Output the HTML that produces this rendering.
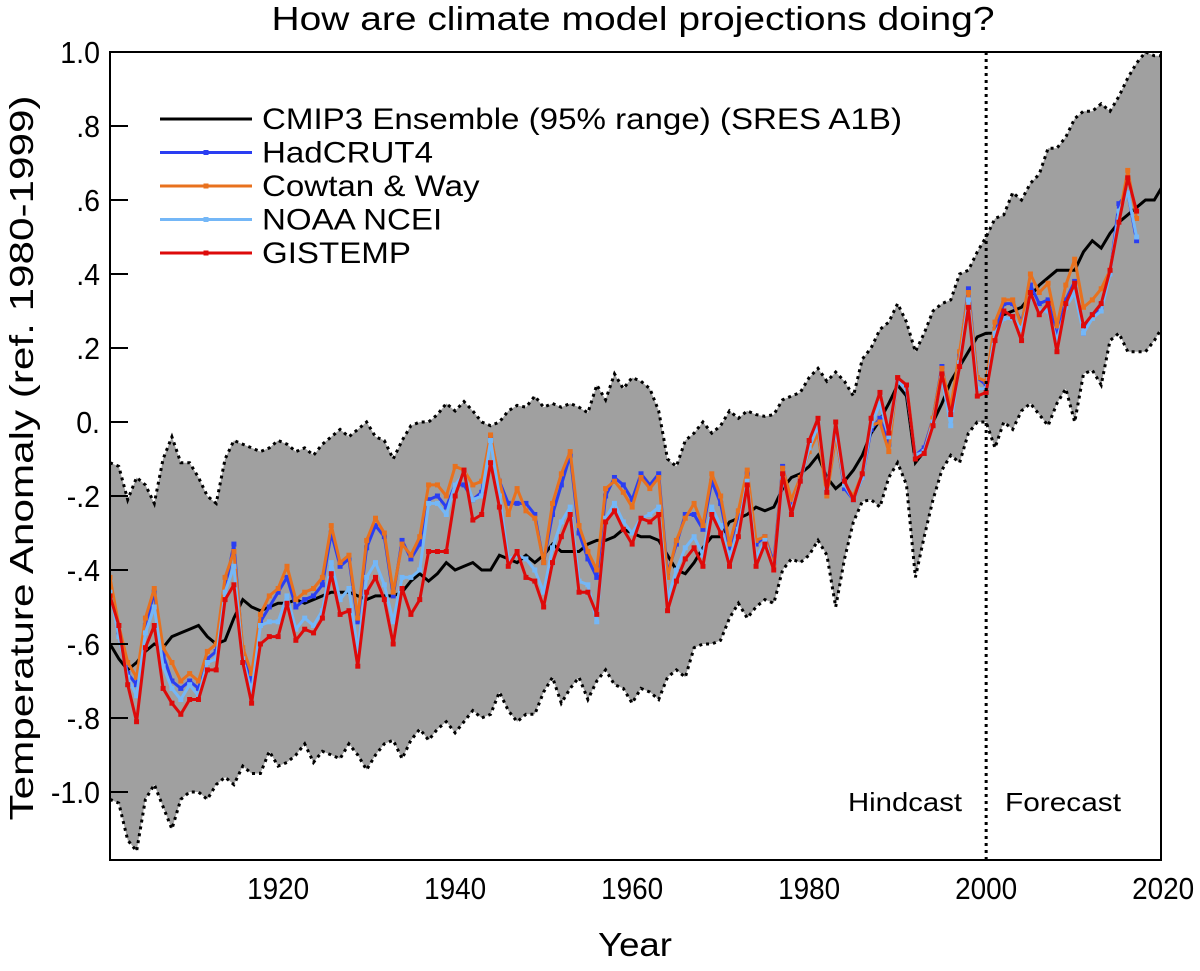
<!DOCTYPE html>
<html><head><meta charset="utf-8"><style>
html,body{margin:0;padding:0;background:#fff;}
svg{display:block;font-family:"Liberation Sans",sans-serif;}
</style></head><body>
<svg id="chart" width="1200" height="971" viewBox="0 0 1200 971" xmlns="http://www.w3.org/2000/svg">
<defs><clipPath id="clip"><rect x="110" y="52" width="1051" height="808"/></clipPath></defs>
<text x="633" y="30" font-size="33" text-anchor="middle" textLength="723" lengthAdjust="spacingAndGlyphs">How are climate model projections doing?</text>
<text transform="translate(33,458) rotate(-90)" font-size="33" text-anchor="middle" textLength="725" lengthAdjust="spacingAndGlyphs">Temperature Anomaly (ref. 1980-1999)</text>
<text x="635" y="956" font-size="33" text-anchor="middle" textLength="74" lengthAdjust="spacingAndGlyphs">Year</text>
<g id="plot" clip-path="url(#clip)"></g>
<g id="axes"></g>
<rect x="110" y="52" width="1051" height="808" fill="none" stroke="#000" stroke-width="2"/>
<g id="legend"></g>
<text x="848" y="811" font-size="26" textLength="114" lengthAdjust="spacingAndGlyphs">Hindcast</text>
<text x="1005" y="811" font-size="26" textLength="116" lengthAdjust="spacingAndGlyphs">Forecast</text>
</svg>
<script>
const firstYear = 1901;
const modelMean = [-0.60,-0.64,-0.67,-0.65,-0.62,-0.60,-0.61,-0.58,-0.57,-0.56,
-0.55,-0.58,-0.60,-0.59,-0.53,-0.48,-0.50,-0.51,-0.50,-0.49,
-0.49,-0.48,-0.49,-0.48,-0.47,-0.46,-0.46,-0.46,-0.47,-0.48,
-0.47,-0.47,-0.47,-0.46,-0.43,-0.41,-0.43,-0.41,-0.38,-0.40,
-0.39,-0.38,-0.40,-0.40,-0.36,-0.37,-0.38,-0.36,-0.38,-0.36,
-0.33,-0.35,-0.35,-0.35,-0.33,-0.32,-0.32,-0.31,-0.29,-0.30,
-0.31,-0.31,-0.32,-0.36,-0.40,-0.41,-0.38,-0.34,-0.31,-0.31,
-0.27,-0.26,-0.25,-0.23,-0.24,-0.23,-0.18,-0.15,-0.14,-0.12,
-0.09,-0.15,-0.18,-0.16,-0.13,-0.09,-0.03,0.005,0.05,0.10,
0.07,-0.11,-0.08,0.00,0.05,0.11,0.15,0.19,0.23,0.24,
0.24,0.29,0.30,0.31,0.34,0.37,0.39,0.41,0.41,0.41,
0.46,0.49,0.47,0.51,0.54,0.56,0.58,0.60,0.60,0.64];
const bandUpper = [-0.11,-0.12,-0.21,-0.15,-0.17,-0.22,-0.10,-0.04,-0.11,-0.11,
-0.15,-0.20,-0.22,-0.10,-0.05,-0.06,-0.07,-0.08,-0.07,-0.05,
-0.06,-0.08,-0.07,-0.09,-0.06,-0.04,-0.02,-0.04,-0.02,0.00,
-0.04,-0.05,-0.10,-0.05,-0.01,0.00,0.00,0.02,0.05,0.03,
0.055,0.03,0.00,-0.01,0.00,0.03,0.045,0.04,0.07,0.04,
0.05,0.04,0.05,0.04,0.025,0.10,0.06,0.13,0.09,0.12,
0.11,0.09,0.03,-0.10,-0.12,-0.05,-0.03,0.00,-0.03,-0.01,
0.03,0.01,0.03,0.02,0.015,0.02,0.06,0.07,0.08,0.12,
0.145,0.11,0.135,0.11,0.07,0.17,0.20,0.25,0.27,0.32,
0.27,0.19,0.24,0.30,0.32,0.33,0.40,0.41,0.46,0.50,
0.55,0.56,0.62,0.60,0.645,0.67,0.74,0.74,0.77,0.82,
0.84,0.84,0.86,0.84,0.88,0.93,0.97,1.00,0.99,0.99];
const bandLower = [-1.02,-1.03,-1.13,-1.16,-1.02,-0.98,-1.04,-1.10,-1.02,-1.00,
-1.00,-1.02,-0.98,-0.96,-0.98,-0.93,-0.95,-0.95,-0.89,-0.93,
-0.92,-0.90,-0.87,-0.92,-0.89,-0.90,-0.91,-0.87,-0.90,-0.94,
-0.90,-0.87,-0.86,-0.91,-0.86,-0.83,-0.86,-0.83,-0.81,-0.84,
-0.81,-0.78,-0.80,-0.79,-0.73,-0.78,-0.81,-0.79,-0.79,-0.73,
-0.69,-0.76,-0.72,-0.69,-0.75,-0.70,-0.67,-0.71,-0.72,-0.76,
-0.72,-0.73,-0.75,-0.69,-0.67,-0.69,-0.61,-0.60,-0.60,-0.59,
-0.53,-0.49,-0.53,-0.50,-0.48,-0.49,-0.40,-0.37,-0.38,-0.36,
-0.32,-0.36,-0.50,-0.37,-0.27,-0.215,-0.21,-0.23,-0.15,-0.11,
-0.17,-0.42,-0.31,-0.21,-0.13,-0.09,-0.11,-0.03,0.00,0.00,
-0.07,0.00,-0.02,0.03,0.05,0.02,-0.01,0.05,0.09,0.00,
0.13,0.14,0.10,0.22,0.24,0.19,0.19,0.19,0.22,0.26];
const hadcrut4 = [-0.44,-0.57,-0.68,-0.71,-0.55,-0.46,-0.63,-0.70,-0.72,-0.70,
-0.72,-0.64,-0.62,-0.45,-0.33,-0.62,-0.70,-0.54,-0.50,-0.46,
-0.42,-0.50,-0.48,-0.47,-0.44,-0.30,-0.39,-0.37,-0.54,-0.34,
-0.28,-0.31,-0.47,-0.32,-0.37,-0.33,-0.21,-0.20,-0.23,-0.17,
-0.17,-0.21,-0.19,-0.04,-0.16,-0.22,-0.22,-0.22,-0.25,-0.38,
-0.25,-0.17,-0.09,-0.30,-0.37,-0.42,-0.20,-0.15,-0.17,-0.21,
-0.14,-0.17,-0.14,-0.41,-0.33,-0.25,-0.25,-0.29,-0.16,-0.22,
-0.34,-0.25,-0.14,-0.33,-0.31,-0.38,-0.12,-0.22,-0.15,-0.07,
-0.03,-0.18,-0.03,-0.18,-0.21,-0.15,-0.02,0.01,-0.06,0.12,
0.09,-0.09,-0.07,0.01,0.15,0.02,0.18,0.36,0.12,0.10,
0.25,0.32,0.32,0.27,0.37,0.32,0.33,0.23,0.33,0.38,
0.24,0.29,0.31,0.40,0.59,0.62,0.49];
const cowtanWay = [-0.42,-0.55,-0.65,-0.69,-0.53,-0.45,-0.61,-0.65,-0.70,-0.68,
-0.70,-0.62,-0.60,-0.42,-0.35,-0.61,-0.68,-0.52,-0.47,-0.45,
-0.39,-0.48,-0.46,-0.45,-0.42,-0.28,-0.38,-0.36,-0.53,-0.32,
-0.26,-0.30,-0.46,-0.33,-0.36,-0.31,-0.17,-0.17,-0.20,-0.12,
-0.13,-0.17,-0.16,-0.035,-0.16,-0.25,-0.18,-0.24,-0.26,-0.38,
-0.22,-0.14,-0.08,-0.28,-0.35,-0.40,-0.18,-0.16,-0.19,-0.23,
-0.15,-0.18,-0.15,-0.42,-0.32,-0.26,-0.22,-0.28,-0.14,-0.20,
-0.33,-0.24,-0.13,-0.32,-0.31,-0.39,-0.125,-0.21,-0.15,-0.08,
-0.03,-0.20,-0.04,-0.17,-0.20,-0.14,-0.01,0.00,-0.08,0.12,
0.10,-0.09,-0.08,0.01,0.145,0.04,0.19,0.35,0.12,0.11,
0.27,0.33,0.33,0.26,0.40,0.35,0.375,0.26,0.37,0.44,
0.31,0.33,0.36,0.41,0.55,0.68,0.55];
const noaaNcei = [-0.46,-0.58,-0.69,-0.74,-0.57,-0.50,-0.66,-0.72,-0.75,-0.71,
-0.74,-0.65,-0.64,-0.46,-0.39,-0.64,-0.73,-0.55,-0.54,-0.54,
-0.47,-0.56,-0.53,-0.55,-0.51,-0.38,-0.48,-0.45,-0.62,-0.42,
-0.38,-0.44,-0.54,-0.42,-0.42,-0.40,-0.22,-0.22,-0.25,-0.17,
-0.14,-0.21,-0.20,-0.05,-0.20,-0.37,-0.36,-0.37,-0.40,-0.46,
-0.34,-0.27,-0.23,-0.43,-0.44,-0.54,-0.26,-0.22,-0.27,-0.30,
-0.26,-0.25,-0.23,-0.48,-0.40,-0.34,-0.31,-0.36,-0.23,-0.28,
-0.37,-0.29,-0.16,-0.37,-0.32,-0.40,-0.15,-0.24,-0.16,-0.07,
-0.01,-0.18,-0.02,-0.17,-0.21,-0.15,-0.01,0.05,-0.04,0.11,
0.09,-0.09,-0.08,0.00,0.12,-0.01,0.16,0.33,0.09,0.09,
0.24,0.28,0.28,0.25,0.34,0.30,0.30,0.22,0.31,0.35,
0.24,0.28,0.30,0.40,0.57,0.62,0.50];
const gistemp = [-0.47,-0.55,-0.71,-0.81,-0.61,-0.55,-0.72,-0.76,-0.79,-0.75,
-0.75,-0.67,-0.67,-0.48,-0.44,-0.65,-0.76,-0.60,-0.58,-0.58,
-0.49,-0.59,-0.56,-0.57,-0.53,-0.41,-0.52,-0.51,-0.66,-0.46,
-0.42,-0.48,-0.60,-0.45,-0.52,-0.48,-0.35,-0.35,-0.35,-0.20,
-0.13,-0.265,-0.25,-0.11,-0.23,-0.39,-0.35,-0.42,-0.43,-0.50,
-0.38,-0.31,-0.25,-0.46,-0.46,-0.52,-0.27,-0.24,-0.29,-0.33,
-0.26,-0.27,-0.25,-0.51,-0.43,-0.37,-0.34,-0.39,-0.25,-0.30,
-0.39,-0.31,-0.17,-0.39,-0.33,-0.40,-0.14,-0.25,-0.16,-0.05,
0.01,-0.19,0.00,-0.16,-0.21,-0.14,0.01,0.08,-0.03,0.12,
0.10,-0.10,-0.085,-0.01,0.13,0.02,0.15,0.31,0.07,0.08,
0.22,0.30,0.285,0.22,0.35,0.29,0.32,0.19,0.32,0.375,
0.26,0.29,0.32,0.41,0.54,0.66,0.57];
const yTickValues = [1.0,0.8,0.6,0.4,0.2,0,-0.2,-0.4,-0.6,-0.8,-1.0];
const yTickLabels = ["1.0",".8",".6",".4",".2","0.","-.2","-.4","-.6","-.8","-1.0"];
const xTickValues = [1920,1940,1960,1980,2000,2020];
const xTickLabels = ["1920","1940","1960","1980","2000","2020"];

const NS = "http://www.w3.org/2000/svg";
function xs(year){ return 110 + (year - 1901) * 8.85; }
function ys(v){ return 422 - v * 370; }
function mk(tag, attrs, parent){ const e = document.createElementNS(NS, tag); for (const k in attrs) e.setAttribute(k, attrs[k]); parent.appendChild(e); return e; }
function pts(arr){ return arr.map((v,i)=> xs(firstYear+i).toFixed(1)+","+ys(v).toFixed(1)).join(" "); }
function condense(t, f){ const w = t.getComputedTextLength(); t.setAttribute("textLength", (w*f).toFixed(1)); t.setAttribute("lengthAdjust","spacingAndGlyphs"); }

const plot = document.getElementById("plot");
const bandPts = bandUpper.map((v,i)=>xs(firstYear+i).toFixed(1)+","+ys(v).toFixed(1)).concat(bandLower.map((v,i)=>[i,v]).reverse().map(p=>xs(firstYear+p[0]).toFixed(1)+","+ys(p[1]).toFixed(1))).join(" ");
const band = mk("polygon",{points:bandPts,fill:"#a0a0a0",stroke:"none"},plot);


const ub = mk("polyline",{points:pts(bandUpper),fill:"none",stroke:"#000","stroke-width":3,"stroke-dasharray":"3,4"},plot);


const lb = mk("polyline",{points:pts(bandLower),fill:"none",stroke:"#000","stroke-width":3,"stroke-dasharray":"3,4"},plot);


const mm = mk("polyline",{points:pts(modelMean),fill:"none",stroke:"#000","stroke-width":3},plot);



const seriesList = [
  {d:hadcrut4, c:"#2a3ef2", n:"hadcrut4"},
  {d:cowtanWay, c:"#e8711e", n:"cowtan-way"},
  {d:noaaNcei, c:"#74b7f7", n:"noaa-ncei"},
  {d:gistemp, c:"#dd0a0a", n:"gistemp"}
];
seriesList.forEach(s=>{
  const g = mk("g",{},plot);
  
  
  const l = mk("polyline",{points:pts(s.d),fill:"none",stroke:s.c,"stroke-width":3,"stroke-linejoin":"round"},g);
  
  
  s.d.forEach((v,i)=>{
    const r = mk("rect",{x:xs(firstYear+i)-2.5,y:ys(v)-2.5,width:5,height:5,fill:s.c},g);
    
    
  });
});
const dl = mk("line",{x1:xs(2000),y1:52,x2:xs(2000),y2:860,stroke:"#000","stroke-width":3,"stroke-dasharray":"3,4"},plot);



const axes = document.getElementById("axes");
yTickValues.forEach((v,i)=>{
  const t = mk("line",{x1:110,y1:ys(v),x2:128,y2:ys(v),stroke:"#000","stroke-width":2},axes);
  
  
  const tx = mk("text",{x:100,y:ys(v)+11,"font-size":31,"text-anchor":"end"},axes);
  tx.textContent = yTickLabels[i];
  
  
  condense(tx, 0.92);
});
xTickValues.forEach((v,i)=>{
  const tx = mk("text",{x:xs(v),y:899,"font-size":31,"text-anchor":"middle"},axes);
  tx.textContent = xTickLabels[i];
  
  
  condense(tx, 0.9);
});

const legend = document.getElementById("legend");
const legendNames = ["CMIP3 Ensemble (95% range) (SRES A1B)","HadCRUT4","Cowtan & Way","NOAA NCEI","GISTEMP"];
const legendColors = ["#000","#2a3ef2","#e8711e","#74b7f7","#dd0a0a"];
let legendFactor = 1;
legendNames.forEach((nm,i)=>{
  const y = 119 + i*33.5;
  const g = mk("g",{},legend);
  
  
  mk("line",{x1:160,y1:y,x2:252,y2:y,stroke:legendColors[i],"stroke-width":3},g);
  if(i>0) mk("rect",{x:203.5,y:y-2.5,width:5,height:5,fill:legendColors[i]},g);
  const t = mk("text",{x:262,y:y+10,"font-size":30},g);
  t.textContent = nm;
  if(i===0) legendFactor = 640 / t.getComputedTextLength();
  condense(t, legendFactor);
});
</script>
</body></html>
